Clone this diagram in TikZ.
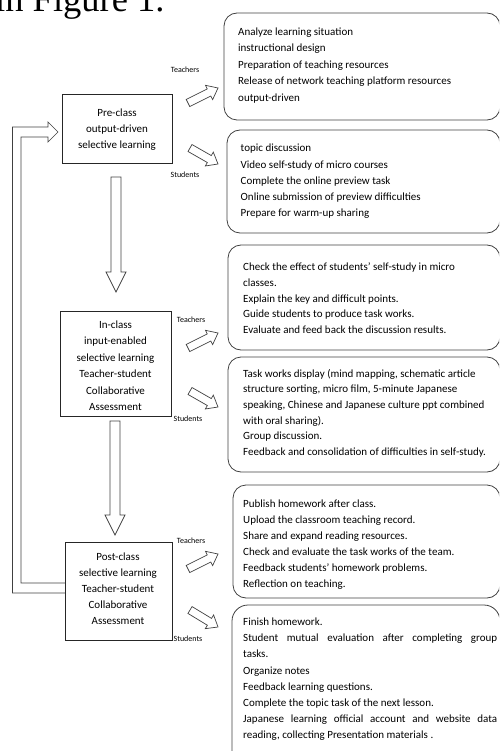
\documentclass[tikz,border=0pt]{standalone}
\usepackage{fontspec}
\setmainfont{Carlito}
\newfontfamily\timesf{Liberation Serif}
\usetikzlibrary{calc}

\newcommand\hollowarrow[5]{%
  \coordinate (ha-base) at ($(#2)!#5!(#1)$);
  \draw[blockline] ($(#1)!#3!90:(#2)$) -- ($(ha-base)!#3!-90:(#1)$) -- ($(ha-base)!#4!-90:(#1)$) -- (#2)
    -- ($(ha-base)!#4!90:(#1)$) -- ($(ha-base)!#3!90:(#1)$) -- ($(#1)!#3!-90:(#2)$) -- cycle;
}

\tikzset{
  stage/.style={draw=black!85, line width=0.8pt, inner sep=0pt, outer sep=0pt, anchor=north west},
  rbox/.style={draw=black!75, line width=0.8pt, rounded corners=13pt, inner sep=0pt, outer sep=0pt, anchor=north west},
  blockline/.style={draw=black!75, line width=0.7pt, line join=miter},
  lbl/.style={font=\fontsize{8}{8}\selectfont, inner sep=0pt, anchor=base},
  txt/.style={inner sep=0pt, anchor=base west},
  stxt/.style={inner sep=0pt, anchor=base},
}

\begin{document}
\begin{tikzpicture}[x=1pt, y=-1pt]
\useasboundingbox (0,0) rectangle (499,751);
\clip (0,0) rectangle (499,751);

% caption fragment
\node[txt] (fig) at (-5,12) {\fontsize{36.5}{36.5}\selectfont\timesf in Figure 1.};

% stage boxes
\node[stage, minimum width=110pt, minimum height=69pt] (pre) at (62,94) {};
\node[stxt] (pretext) at (117,116.5) {\parbox[t]{108pt}{\centering\fontsize{11}{16}\selectfont Pre-class\\output-driven\\selective learning}};

\node[stage, minimum width=111pt, minimum height=105pt] (in) at (60,311) {};
\node[stxt] (intext) at (115.5,328) {\parbox[t]{108pt}{\centering\fontsize{11}{16.5}\selectfont In-class\\input-enabled\\selective learning\\Teacher-student\\Collaborative\\Assessment}};

\node[stage, minimum width=107pt, minimum height=98pt] (post) at (65,542) {};
\node[stxt] (posttext) at (118,560) {\parbox[t]{106pt}{\centering\fontsize{11}{16.2}\selectfont Post-class\\selective learning\\Teacher-student\\Collaborative\\Assessment}};

% right rounded boxes
\node[rbox, minimum width=276pt, minimum height=107pt] (b1) at (224,13) {};
\node[txt] (t1) at (238,35.5) {\parbox[t]{300pt}{\raggedright\fontsize{11}{16.5}\selectfont Analyze learning situation\\instructional design\\Preparation of teaching resources\\Release of network teaching platform resources\\output-driven}};

\node[rbox, minimum width=273pt, minimum height=103pt] (b2) at (227,130) {};
\node[txt] (t2) at (240.5,152) {\parbox[t]{300pt}{\raggedright\fontsize{11}{16.25}\selectfont topic discussion\\Video self-study of micro courses\\Complete the online preview task\\Online submission of preview difficulties\\Prepare for warm-up sharing}};

\node[rbox, minimum width=272pt, minimum height=105pt] (b3) at (228,245) {};
\node[txt] (t3) at (243,270.5) {\parbox[t]{300pt}{\raggedright\fontsize{11}{15.8}\selectfont Check the effect of students' self-study in micro\\classes.\\Explain the key and difficult points.\\Guide students to produce task works.\\Evaluate and feed back the discussion results.}};

\node[rbox, minimum width=272pt, minimum height=115pt] (b4) at (228,357) {};
\node[txt] (t4) at (243,377) {\parbox[t]{300pt}{\raggedright\fontsize{11}{15.7}\selectfont Task works display (mind mapping, schematic article\\structure sorting, micro film, 5-minute Japanese\\speaking, Chinese and Japanese culture ppt combined\\with oral sharing).\\Group discussion.\\Feedback and consolidation of difficulties in self-study.}};

\node[rbox, minimum width=267pt, minimum height=113pt] (b5) at (233,485) {};
\node[txt] (t5) at (243,507) {\parbox[t]{300pt}{\raggedright\fontsize{11}{16}\selectfont Publish homework after class.\\Upload the classroom teaching record.\\Share and expand reading resources.\\Check and evaluate the task works of the team.\\Feedback students' homework problems.\\Reflection on teaching.}};

\node[rbox, rounded corners=16pt, minimum width=268pt, minimum height=190pt] (b6) at (232,605) {};
\node[txt] (t6) at (243,625.5) {\parbox[t]{300pt}{\raggedright\fontsize{11}{16.2}\selectfont Finish homework.\\\makebox[254pt][s]{Student mutual evaluation after completing group}\\tasks.\\Organize notes\\Feedback learning questions.\\Complete the topic task of the next lesson.\\\makebox[254pt][s]{Japanese learning official account and website data}\\reading, collecting Presentation materials .}};

% labels
\node[lbl] (tch1) at (185,73) {Teachers};
\node[lbl] (stu1) at (185,178) {Students};
\node[lbl] (tch2) at (191,322) {Teachers};
\node[lbl] (stu2) at (188,421) {Students};
\node[lbl] (tch3) at (191,543) {Teachers};
\node[lbl] (stu3) at (188,641) {Students};

% small block arrows
\coordinate (a1s) at (188,103); \coordinate (a1e) at (218,88);
\coordinate (a2s) at (190,148); \coordinate (a2e) at (218,164);
\coordinate (a3s) at (188,348); \coordinate (a3e) at (218,333);
\coordinate (a4s) at (190,391); \coordinate (a4e) at (218,407);
\coordinate (a5s) at (188,569); \coordinate (a5e) at (218,554);
\coordinate (a6s) at (190,610); \coordinate (a6e) at (218,627);
\hollowarrow{a1s}{a1e}{4pt}{8pt}{10pt}
\hollowarrow{a2s}{a2e}{4pt}{8pt}{10pt}
\hollowarrow{a3s}{a3e}{4pt}{8pt}{10pt}
\hollowarrow{a4s}{a4e}{4pt}{8pt}{10pt}
\hollowarrow{a5s}{a5e}{4pt}{8pt}{10pt}
\hollowarrow{a6s}{a6e}{4pt}{8pt}{10pt}

% vertical block arrows
\coordinate (v1s) at (116,177); \coordinate (v1e) at (116,292);
\coordinate (v2s) at (115,421); \coordinate (v2e) at (115,535);
\hollowarrow{v1s}{v1e}{5pt}{10pt}{20pt}
\hollowarrow{v2s}{v2e}{5pt}{10pt}{20pt}

% feedback loop
\coordinate (loopin) at (post.west |- 0,583);
\coordinate (loopout) at (post.west |- 0,593);
\coordinate (looptip) at (58,132);
\draw[blockline] (loopin) -- (21,583) -- (21,137) -- (48,137) -- (48,142) -- (looptip) -- (48,122) -- (48,127) -- (12.5,127) -- (12.5,593) -- (loopout);
\end{tikzpicture}
\end{document}
